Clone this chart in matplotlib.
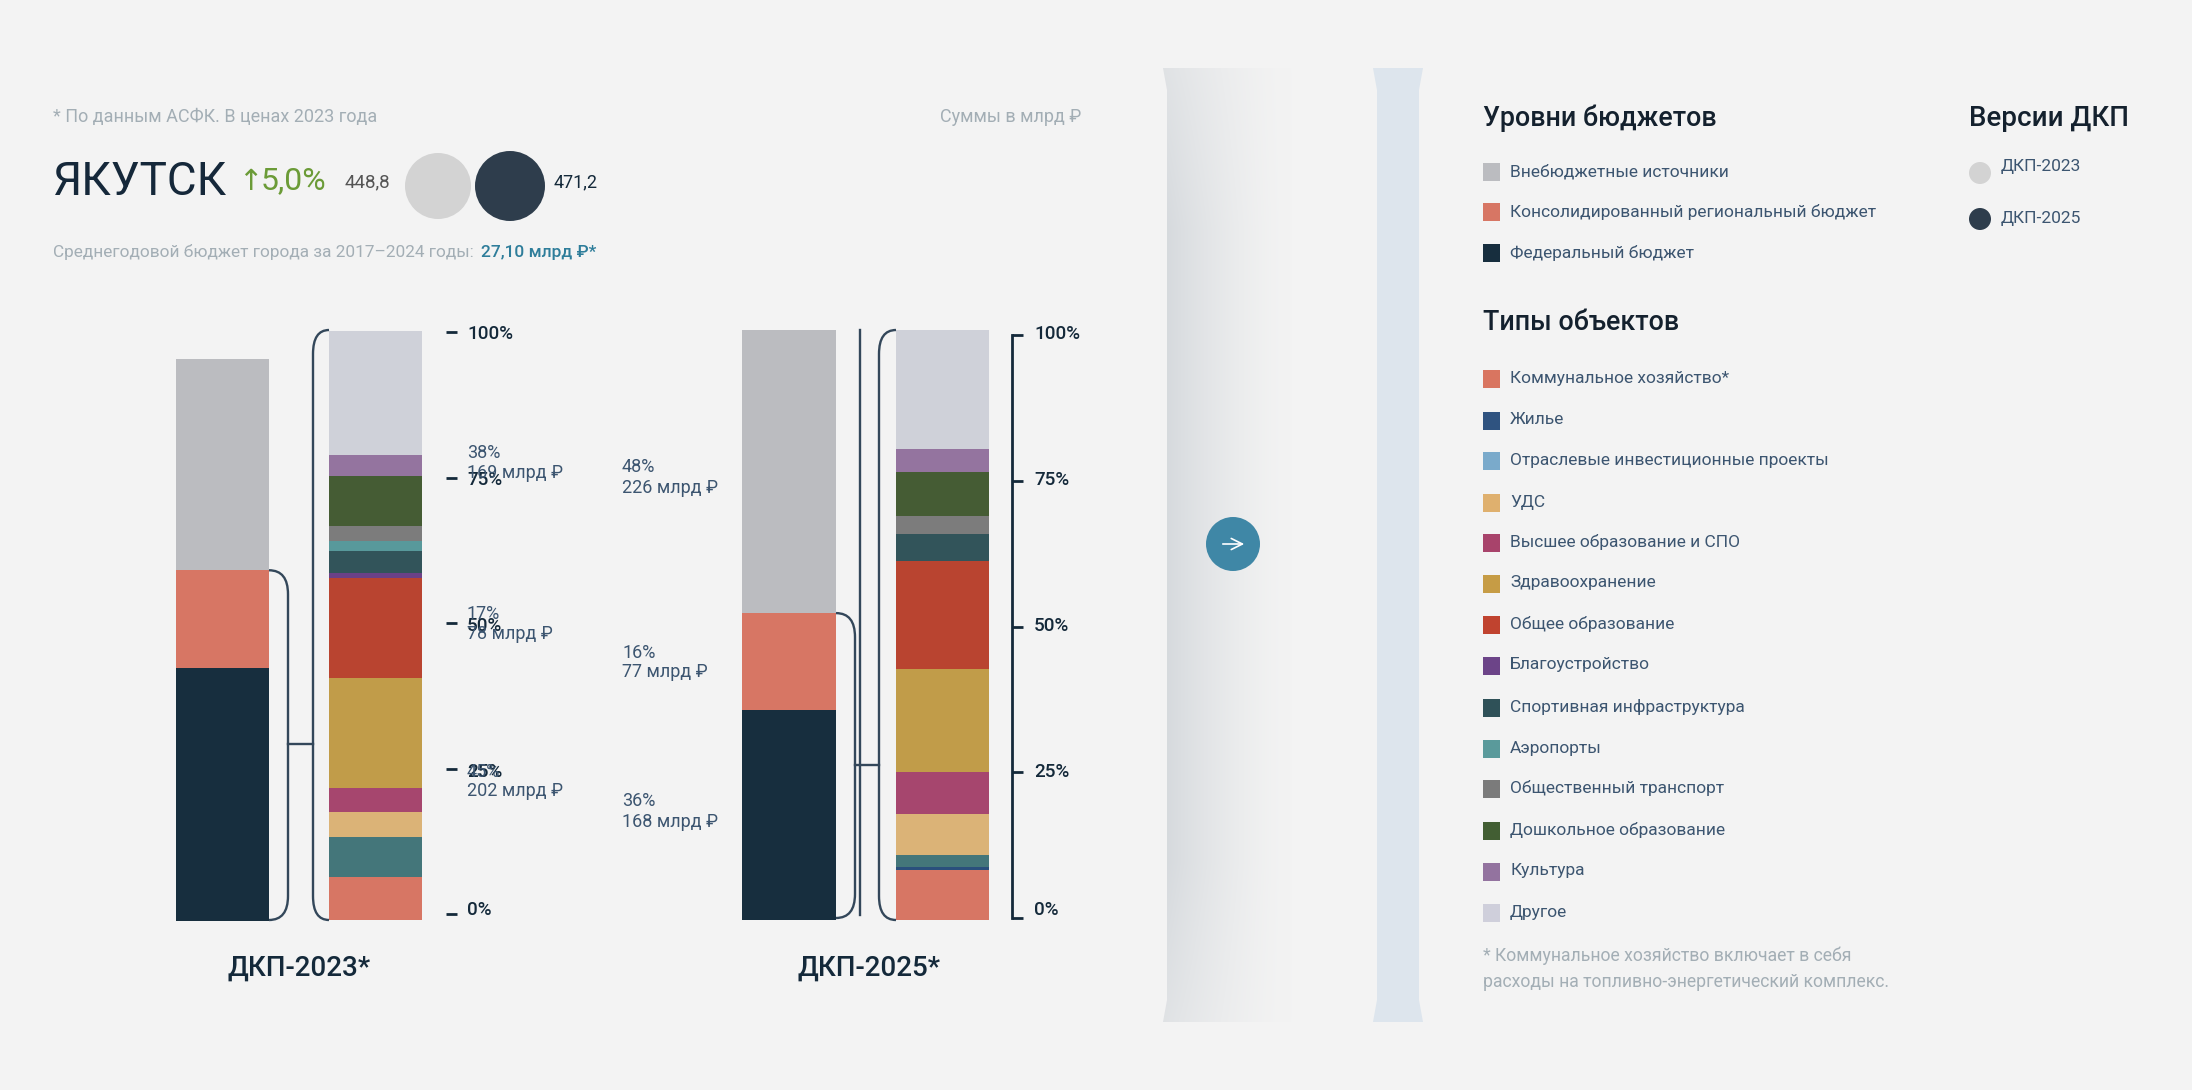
"""Якутск: ДКП-2023 vs ДКП-2025, budget levels and object types."""
import numpy as np
import matplotlib
matplotlib.use("Agg")
import matplotlib.pyplot as plt
from matplotlib.patches import Circle, PathPatch, Polygon, Rectangle
from matplotlib.path import Path

plt.rcParams["font.family"] = ["Roboto", "DejaVu Sans"]

W, H = 2192, 1090
BG = "#f3f3f3"
INK = "#14293a"
BLUE_TXT = "#3c5570"
GREY_TXT = "#a3aeb5"
LINE = "#33475a"

# Budget levels, млрд руб, bottom to top
levels = ["Федеральный бюджет", "Консолидированный региональный бюджет", "Внебюджетные источники"]
level_colors = ["#172e3e", "#d77664", "#bbbcc0"]
levels_2023 = [202, 78, 169]
levels_2025 = [168, 77, 226]
shares_2023 = [45, 17, 38]
shares_2025 = [36, 16, 48]

# Object types, % of federal + regional money, bottom to top
types = ["Коммунальное хозяйство*", "Жилье", "Отраслевые инвестиционные проекты", "УДС",
         "Высшее образование и СПО", "Здравоохранение", "Общее образование", "Благоустройство",
         "Спортивная инфраструктура", "Аэропорты", "Общественный транспорт",
         "Дошкольное образование", "Культура", "Другое"]
type_colors = ["#d77664", "#2a4f7c", "#44767a", "#dbb377", "#a6466e", "#c19c49", "#b94430",
               "#6b4187", "#32545a", "#58999b", "#7c7c7c", "#455c34", "#94749f", "#cfd1d9"]
legend_colors = ["#d97560", "#2f5380", "#7aaacb", "#dfb06e", "#a8436b", "#c69c45", "#c0432f",
                 "#6c4488", "#2f5158", "#5a9a9b", "#7b7b7b", "#425e33", "#93739f", "#cfcfdb"]
types_2023 = [7.3, 0, 6.7, 4.3, 4.1, 18.6, 16.9, 0.9, 3.8, 1.7, 2.5, 8.5, 3.5, 21.1]
types_2025 = [8.5, 0.5, 2.1, 6.9, 7.1, 17.5, 18.3, 0, 4.5, 0, 3.0, 7.5, 4.0, 20.1]

pct_ticks = [0, 25, 50, 75, 100]
versions = ["ДКП-2023", "ДКП-2025"]
version_colors = ["#d3d3d3", "#2e3d4c"]
totals = [448.8, 471.2]

fig = plt.figure(figsize=(W / 100, H / 100), dpi=100, facecolor=BG)


def pix_axes(x0, y0, x1, y1, **kw):
    # axes placed by pixel box, y counted from the top of the picture
    return fig.add_axes([x0 / W, 1 - y1 / H, (x1 - x0) / W, (y1 - y0) / H], **kw)


ov = pix_axes(0, 0, W, H)
ov.set_xlim(0, W)
ov.set_ylim(H, 0)
ov.axis("off")
ov.set_zorder(5)
ov.patch.set_alpha(0)


def txt(x, y, s, size=12, color=INK, **kw):
    kw.setdefault("va", "center")
    return ov.text(x, y, s, fontsize=size, color=color, **kw)


def stacked(box, vals, colors, ymax):
    a = pix_axes(*box)
    a.set_xlim(-0.5, 0.5)
    a.set_ylim(0, ymax)
    a.axis("off")
    bottom = 0
    for v, c in zip(vals, colors):
        a.bar(0, v, bottom=bottom, width=1, color=c, linewidth=0)
        bottom += v
    return a


def to_ov(a, x, y):
    return ov.transData.inverted().transform(a.transData.transform((x, y)))


def bracket(xbar, xline, ytop, ybot, r=24, lw=1.7):
    # rounded bracket from a bar edge to a vertical line
    verts = [(xbar, ytop), (xline, ytop), (xline, ytop + r), (xline, ybot - r), (xline, ybot), (xbar, ybot)]
    codes = [Path.MOVETO, Path.CURVE3, Path.CURVE3, Path.LINETO, Path.CURVE3, Path.CURVE3]
    ov.add_patch(PathPatch(Path(verts, codes), fc="none", ec=LINE, lw=lw))


def scale(tick_box, label_box, spine):
    a = pix_axes(*tick_box)
    a.set_ylim(0, 100)
    a.set_xlim(0, 1)
    a.patch.set_alpha(0)
    for s in a.spines.values():
        s.set_visible(False)
    a.spines["left"].set_visible(spine)
    a.spines["left"].set_linewidth(2)
    a.spines["left"].set_color(INK)
    a.set_xticks([])
    a.set_yticks(pct_ticks)
    a.set_yticklabels([])
    a.tick_params(axis="y", direction="in", length=8, width=2, color=INK, left=True)
    lab = pix_axes(*label_box)
    lab.set_ylim(0, 100)
    lab.axis("off")
    for p in pct_ticks:
        # the 0% label sits a little above its tick in the source
        lab.annotate(f"{p}%", xy=(0, p), xycoords=lab.get_yaxis_transform(),
                     xytext=(0, 6 if p == 0 else 0), textcoords="offset points",
                     fontsize=13.6, fontweight="medium", color=INK, va="center", ha="left")


# panels
x0, x1 = 1163, 1293
poly = Polygon([(x0, 68), (x1, 68), (x1, 1022), (x0, 1022), (x0 + 4, 1000), (x0 + 4, 90)],
               transform=ov.transData, fc="none", ec="none")
ov.add_patch(poly)
fade_x = (1 - np.linspace(0, 1, 200)) ** 1.5
fade_y = np.clip(np.minimum(np.linspace(0, 1, 200), np.linspace(1, 0, 200)) * 6, 0, 1) * 0.35 + 0.65
amount = np.outer(fade_y, fade_x)[:, :, None]
c0, c1 = np.array([0.835, 0.85, 0.865]), np.array([0.953, 0.953, 0.953])
im = ov.imshow(c1 + (c0 - c1) * amount, extent=(x0, x1, 1022, 68), aspect="auto", zorder=1)
im.set_clip_path(poly)
ov.set_xlim(0, W)
ov.set_ylim(H, 0)
ov.add_patch(Polygon([(1373, 68), (1423, 68), (1419, 90), (1419, 1000), (1423, 1022), (1373, 1022),
                      (1377, 1000), (1377, 90)], fc="#dde5ed", ec="none", zorder=1))
ov.add_patch(Circle((1233, 544), 27, fc="#3f87a6", ec="none", zorder=3))
ov.annotate("", xy=(1247, 544), xytext=(1220, 544), zorder=4,
            arrowprops=dict(arrowstyle="->", color="white", lw=1.2, mutation_scale=20))

# header
txt(53, 117, "* По данным АСФК. В ценах 2023 года", 13, GREY_TXT)
txt(1081, 117, "Суммы в млрд ₽", 13, GREY_TXT, ha="right")
txt(53, 182, "ЯКУТСК", 33, "#15283a")
txt(238, 182, "↑", 21, "#6b9b37", family=["DejaVu Sans"])
txt(261, 181, "5,0%", 23, "#6b9b37")
txt(345, 182, f"{totals[0]:.1f}".replace(".", ","), 13.5, "#555555")
txt(554, 182, f"{totals[1]:.1f}".replace(".", ","), 13, INK)
ov.add_patch(Circle((438, 186), 33, fc=version_colors[0], ec="none"))
ov.add_patch(Circle((510, 186), 35, fc=version_colors[1], ec="none"))
txt(53, 252, "Среднегодовой бюджет города за 2017–2024 годы:", 12.45, GREY_TXT)
txt(481, 252, "27,10 млрд ₽*", 12.5, "#2e7d9a", fontweight="medium")

# bars: the level bars share a scale in млрд, the type bars run 0-100%
ymax = max(sum(levels_2023), sum(levels_2025))
a23 = stacked((176, 331, 269, 921), levels_2023, level_colors, ymax)
b23 = stacked((329, 330, 422, 920), types_2023, type_colors, 100)
a25 = stacked((742, 330, 836, 920), levels_2025, level_colors, ymax)
b25 = stacked((896, 330, 989, 920), types_2025, type_colors, 100)

# brackets
y_top = to_ov(a23, 0, levels_2023[0] + levels_2023[1])[1]
bracket(269, 288, y_top, 920)
ov.plot([288, 313], [744, 744], color=LINE, lw=1.7)
bracket(329, 313, 330, 920)
y_top = to_ov(a25, 0, levels_2025[0] + levels_2025[1])[1]
bracket(836, 855, y_top, 918)
ov.plot([855, 879], [765, 765], color=LINE, lw=1.7)
ov.plot([860, 860], [330, 915], color=LINE, lw=1.7)
bracket(896, 879, 330, 920)

scale((446, 332, 458, 914), (467, 334, 560, 918), False)
scale((1012, 335, 1024, 918), (1034, 334, 1110, 918), True)

# level captions
captions = [(467, [(453, 473), (614, 634), (772, 791)], shares_2023[::-1], levels_2023[::-1]),
            (622, [(467, 488), (653, 672), (801, 822)], shares_2025[::-1], levels_2025[::-1])]
for x, ys, shares, amounts in captions:
    for (y1, y2), sh, am in zip(ys, shares, amounts):
        txt(x, y1, f"{sh}%", 13, BLUE_TXT)
        txt(x, y2, f"{am} млрд ₽", 13, BLUE_TXT)

txt(299, 968, "ДКП-2023*", 20, INK, ha="center", fontweight="medium")
txt(869, 968, "ДКП-2025*", 20, INK, ha="center", fontweight="medium")

# legends
txt(1483, 118, "Уровни бюджетов", 19.4, "#14212e", fontweight="medium")
txt(1969, 118, "Версии ДКП", 20, "#14212e", fontweight="medium")
txt(1483, 323, "Типы объектов", 19.4, "#14212e", fontweight="medium")
for name, c, y in zip(levels[::-1], level_colors[::-1], [172, 212, 253]):
    ov.add_patch(Rectangle((1483, y - 9), 17, 18, fc=c, ec="none"))
    txt(1510, y, name, 12.5, BLUE_TXT)
for name, c, y, yt in zip(versions, version_colors, [173, 219], [167, 218]):
    ov.add_patch(Circle((1980, y), 11, fc=c, ec="none"))
    txt(2001, yt, name, 12.5, BLUE_TXT)
type_rows = [379, 421, 461, 503, 543, 584, 625, 666, 708, 749, 789, 831, 872, 913]
for name, c, y in zip(types, legend_colors, type_rows):
    ov.add_patch(Rectangle((1483, y - 9), 17, 18, fc=c, ec="none"))
    txt(1510, y - 1, name, 12.5, BLUE_TXT)
txt(1483, 956, "* Коммунальное хозяйство включает в себя", 12.7, GREY_TXT)
txt(1483, 982, "расходы на топливно-энергетический комплекс.", 12.7, GREY_TXT)

plt.savefig("out.png", dpi=100, facecolor=BG)
print("saved out.png")
